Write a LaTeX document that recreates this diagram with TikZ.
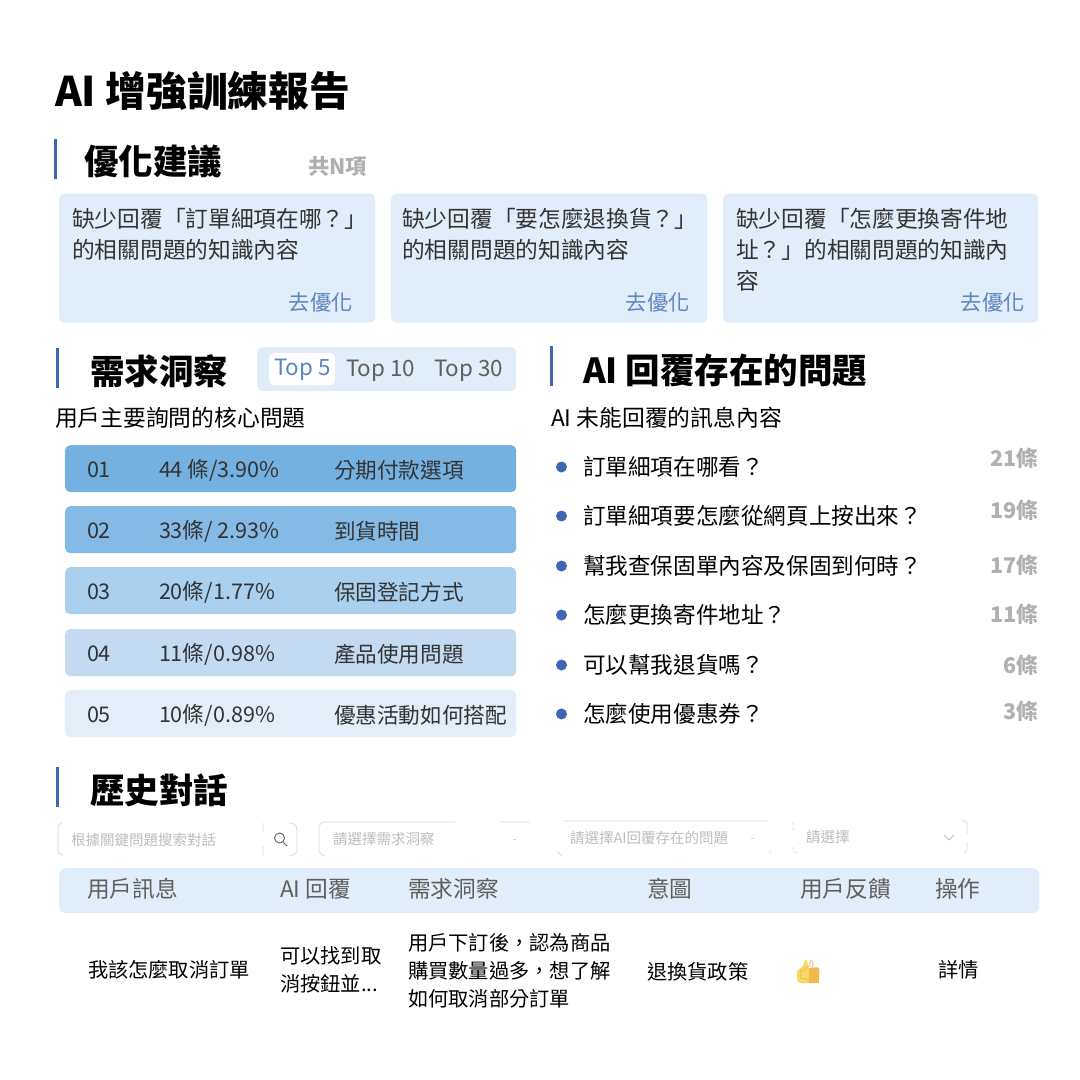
\documentclass[tikz,border=0pt]{standalone}
\usepackage{fontspec}
\setmainfont{Noto Sans CJK TC}
\newfontfamily\emojifont{Noto Emoji}
\definecolor{panel}{HTML}{E1EDF8}
\definecolor{accent}{HTML}{3F66B5}
\definecolor{linkblue}{HTML}{5B86C4}
\definecolor{ink}{HTML}{333333}
\definecolor{greyhead}{HTML}{5F5F5F}
\definecolor{countgrey}{HTML}{B0B0B0}
\definecolor{rowA}{HTML}{74B1E0}
\definecolor{rowB}{HTML}{84BAE5}
\definecolor{rowC}{HTML}{A9D0EE}
\definecolor{rowD}{HTML}{C3DAF1}
\definecolor{rowE}{HTML}{E3EEF9}
\definecolor{filterline}{HTML}{D8D8D8}
\definecolor{filtertext}{HTML}{BDBDBD}
\definecolor{thumb}{HTML}{F8D765}
\definecolor{thumbdark}{HTML}{F0B94C}
\tikzset{
  txt/.style={anchor=west,inner sep=0pt,outer sep=0pt,align=left},
  title/.style={txt,font=\fontsize{40.8}{46}\selectfont\bfseries,text=black},
  heading/.style={txt,font=\fontsize{34.5}{40}\selectfont\bfseries,text=black},
  bar/.style={fill=accent,draw=none,inner sep=0pt,minimum width=3pt,minimum height=40pt},
  card/.style={fill=panel,draw=none,rounded corners=5pt,anchor=north west,inner sep=0pt},
  cardtext/.style={anchor=north west,inner sep=0pt,align=left,font=\fontsize{22.7}{31}\selectfont,text=ink},
  linktext/.style={anchor=east,inner sep=0pt,font=\fontsize{21.3}{26}\selectfont,text=linkblue},
  sub/.style={txt,font=\fontsize{22.8}{26}\selectfont,text=black},
  rowbox/.style={draw=none,rounded corners=5pt,anchor=north west,inner sep=0pt,minimum width=451pt,minimum height=47pt},
  rowtext/.style={txt,font=\fontsize{21.6}{26}\selectfont,text=ink},
  item/.style={txt,font=\fontsize{22.6}{26}\selectfont,text=black},
  dot/.style={circle,fill=accent,draw=none,inner sep=0pt,minimum size=11pt},
  count/.style={anchor=east,inner sep=0pt,font=\fontsize{21.6}{26}\selectfont\bfseries,text=countgrey},
  tabtext/.style={txt,font=\fontsize{22.4}{28}\selectfont,text=greyhead},
  filter/.style={draw=filterline,line width=.7pt},
  filtertxt/.style={txt,font=\fontsize{14.5}{18}\selectfont,text=filtertext},
  headtext/.style={txt,font=\fontsize{22.7}{26}\selectfont,text=greyhead},
  celltext/.style={txt,font=\fontsize{20.25}{28}\selectfont,text=black},
}
\begin{document}
\begin{tikzpicture}[x=1pt,y=-1pt]
\useasboundingbox[fill=white] (0,0) rectangle (1080,1080);
\node[title] (mainT) at (55,91) {AI 增強訓練報告};
% Optimisation
\node[bar] (barA) at (55.5,159) {};
\node[heading] (headA) at (84,161) {優化建議};
\node[txt,font=\fontsize{21.3}{26}\selectfont\bfseries,text=countgrey] (countN) at (308,166) {共N項};
\node[card,minimum width=316pt,minimum height=129pt] (cardA) at (59,193.5) {};
\node[card,minimum width=316pt,minimum height=129pt] (cardB) at (391,193.5) {};
\node[card,minimum width=315pt,minimum height=129pt] (cardC) at (723,193.5) {};
\node[cardtext] (cardAt) at (72,208) {缺少回覆「訂單細項在哪？」\\的相關問題的知識內容};
\node[cardtext] (cardBt) at (402,208) {缺少回覆「要怎麼退換貨？」\\的相關問題的知識內容};
\node[cardtext] (cardCt) at (736,208) {缺少回覆「怎麼更換寄件地\\址？」的相關問題的知識內\\容};
\node[linktext] (linkA) at (353,302) {去優化};
\node[linktext] (linkB) at (690,302) {去優化};
\node[linktext] (linkC) at (1025,302) {去優化};
% Needs
\node[bar] (barB) at (57.5,368) {};
\node[heading] (headB) at (90,371) {需求洞察};
\node[fill=panel,rounded corners=5pt,anchor=north west,inner sep=0pt,minimum width=259pt,minimum height=44pt] (tabs) at (257,347) {};
\node[fill=white,rounded corners=5pt,anchor=north west,inner sep=0pt,minimum width=66pt,minimum height=32pt] (tabOn) at (269,353) {};
\node[tabtext,text=linkblue] (tabA) at (274,369.5) {Top 5};
\node[tabtext] (tabB) at (346,371) {Top 10};
\node[tabtext] (tabC) at (434,371) {Top 30};
\node[sub] (subB) at (55,418) {用戶主要詢問的核心問題};
\foreach \nm/\yy/\cc/\nn/\vv/\qq in {
 1/445/rowA/01/44 條\slash 3.90\%/分期付款選項,
 2/506/rowB/02/33條\slash\ 2.93\%/到貨時間,
 3/567/rowC/03/20條\slash 1.77\%/保固登記方式,
 4/629/rowD/04/11條\slash 0.98\%/產品使用問題,
 5/690/rowE/05/10條\slash 0.89\%/優惠活動如何搭配}{
  \node[rowbox,fill=\cc] (row\nm) at (65,\yy) {};
  \node[rowtext] (rowN\nm) at (87,\yy+25) {\nn};
  \node[rowtext] (rowV\nm) at (159,\yy+25) {\vv};
  \node[rowtext] (rowQ\nm) at (334,\yy+25) {\qq};
}
% Problems
\node[bar] (barC) at (551.5,366) {};
\node[heading] (headC) at (583,371) {AI 回覆存在的問題};
\node[sub] (subC) at (551,418) {AI 未能回覆的訊息內容};
\foreach \nm/\yy/\cy/\qq/\nn in {
 1/467/458/訂單細項在哪看？/21條,
 2/516/510/訂單細項要怎麼從網頁上按出來？/19條,
 3/566/565/幫我查保固單內容及保固到何時？/17條,
 4/615/614/怎麼更換寄件地址？/11條,
 5/665/665/可以幫我退貨嗎？/6條,
 6/714/711/怎麼使用優惠券？/3條}{
  \node[dot] (dot\nm) at (561.5,\yy) {};
  \node[item] (item\nm) at (583,\yy) {\qq};
  \node[count] (count\nm) at (1038.5,\cy) {\nn};
}
% History
\node[bar] (barD) at (57.5,787) {};
\node[heading] (headD) at (90,790) {歷史對話};
% partly drawn filter outlines, as printed
\draw[filter] (62,823) .. controls (59,824) and (58,825) .. (58,828) -- (58,850) .. controls (58,853) and (60,855) .. (63,855);
\draw[filter] (263,823) -- (263,832) (263,846) -- (263,855) (289,823) .. controls (294,823) and (297,825) .. (297,830) -- (297,849) .. controls (297,853) and (294,856) .. (289,856);
\draw[filter] (319,850) -- (319,829) .. controls (319,825) and (321,822) .. (324,822) -- (455,822) (500,822) -- (530,822) (319,850) .. controls (319,853) and (321,855) .. (325,856);
\draw[filter] (563,821) -- (767,821) (557,851) -- (562,856) (770,850) -- (770,853);
\draw[filter,dash pattern=on 3pt off 2pt] (793,822) -- (793,830) (793,847) .. controls (793,851) and (794,853) .. (797,853);
\draw[filter] (962,820) .. controls (966,820) and (967,822) .. (967,826) -- (967,834) (967,842) -- (967,849) .. controls (967,851) and (966,853) .. (964,853);
\draw[filter] (513,839) -- (516,839) (751,838) -- (754,838);
\node[filtertxt] (fAt) at (71,840) {根據關鍵問題搜索對話};
\node[filtertxt] (fBt) at (333,839) {請選擇需求洞察};
\node[filtertxt] (fCt) at (570,838) {請選擇AI回覆存在的問題};
\node[filtertxt] (fDt) at (806,837) {請選擇};
\draw[draw=greyhead,line width=.9pt] (279.5,838) circle (5pt);
\draw[draw=greyhead,line width=.9pt] (283,842) -- (287,846);
\draw[draw=filtertext,line width=.8pt] (944,835) -- (949,840) -- (954,835);
\node[fill=panel,rounded corners=7pt,anchor=north west,inner sep=0pt,minimum width=980pt,minimum height=45pt] (thead) at (59,868) {};
\node[headtext] (hA) at (87,889) {用戶訊息};
\node[headtext] (hB) at (280,889) {AI 回覆};
\node[headtext] (hC) at (408,889) {需求洞察};
\node[headtext] (hD) at (647,889) {意圖};
\node[headtext] (hE) at (800,889) {用戶反饋};
\node[headtext] (hF) at (935,889) {操作};
\node[celltext] (cA) at (88,970) {我該怎麼取消訂單};
\node[celltext] (cB) at (280,970) {可以找到取\\消按鈕並...};
\node[celltext] (cC) at (408,971) {用戶下訂後，認為商品\\購買數量過多，想了解\\如何取消部分訂單};
\node[celltext] (cD) at (647,972) {退換貨政策};
% thumb: filled body under the glyph
\fill[thumb] (797,972) .. controls (797,969) and (801,969) .. (803,966) -- (805,960) .. controls (808,960) and (808,963) .. (808,968) -- (819,968) -- (819,981) .. controls (819,983) and (818,983) .. (816,983) -- (802,983) .. controls (798,983) and (797,981) .. (797,978) -- cycle;
\fill[thumbdark] (809,968) rectangle (819,983);
\node[txt,font=\emojifont\fontsize{21}{24}\selectfont,text=thumbdark] (cE) at (796.5,971.5) {👍};
\node[celltext] (cF) at (938,970) {詳情};
\end{tikzpicture}
\end{document}
